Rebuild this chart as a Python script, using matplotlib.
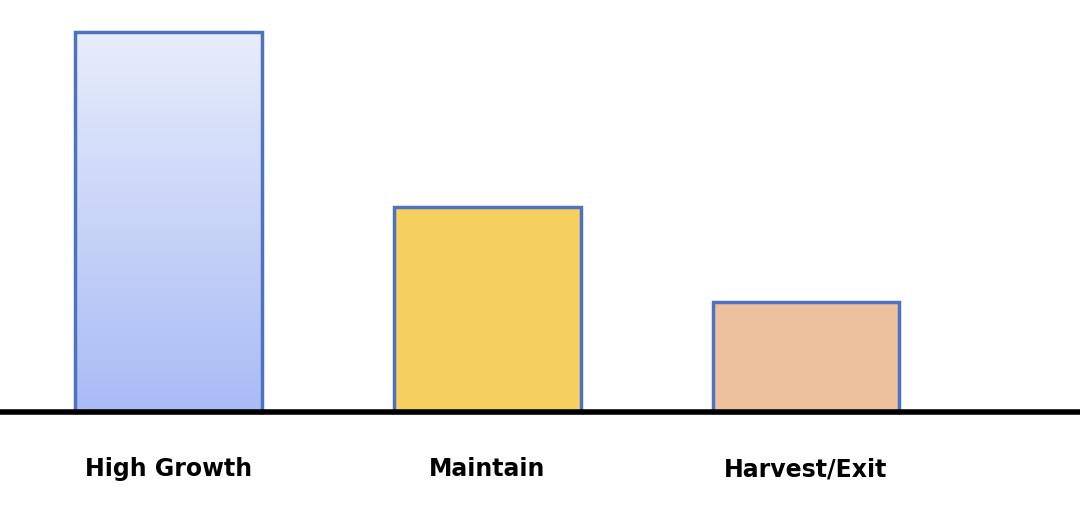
import matplotlib
matplotlib.use("Agg")
import matplotlib.pyplot as plt
import numpy as np
from matplotlib.colors import LinearSegmentedColormap

categories = ["High Growth", "Maintain", "Harvest/Exit"]
values = [100, 54, 29]
colors = [None, "#f5d060", "#edc09e"]

fig = plt.figure(figsize=(10.8, 5.12), dpi=100)
ax = fig.add_axes([0, 0, 1, 1])
ax.set_xlim(-0.527, 2.859)
ax.set_ylim(-26.3, 108.4)
ax.axis("off")

w = 0.586
x = np.arange(len(categories))
bars = ax.bar(x, values, width=w, color=[c if c else "none" for c in colors],
              edgecolor="#4f72c0", linewidth=2.5, zorder=3)

# gradient for first bar
b = bars[0]
cmap = LinearSegmentedColormap.from_list("g", ["#a8bbf5", "#e8edfb"])
grad = np.linspace(0, 1, 256).reshape(-1, 1)
im = ax.imshow(grad, cmap=cmap, origin="lower", aspect="auto",
               extent=[x[0] - w / 2, x[0] + w / 2, 0, values[0]], zorder=2)
im.set_clip_path(b)

ax.axhline(0, color="black", linewidth=4, zorder=4)
for xi, c in zip(x, categories):
    ax.text(xi, -15, c, ha="center", va="center", fontsize=17, fontweight="bold",
            color="black")

fig.savefig("out.png", dpi=100)
